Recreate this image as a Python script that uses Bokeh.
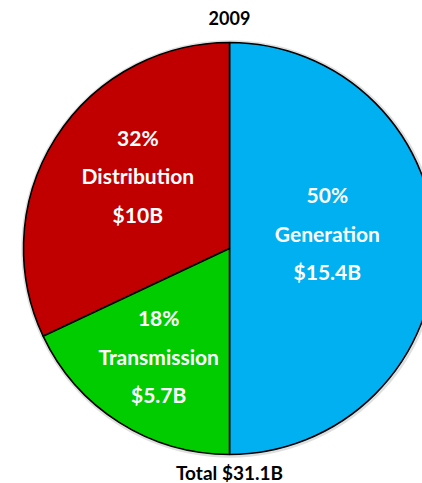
import math
from bokeh.plotting import figure
from bokeh.models import Range1d, ColumnDataSource
from bokeh.core.properties import value
from bokeh.embed import file_html
from bokeh.resources import INLINE

# ---- data ----
categories = ["Generation", "Distribution", "Transmission"]
percents = [50, 32, 18]
amounts = ["$15.4B", "$10B", "$5.7B"]
colors = ["#00B0F0", "#C00000", "#00CC00"]
title_text = "2009"
total_text = "Total $31.1B"

# ---- layout ----
W, H = 422, 483
cx, cy, R = 229, 235, 206
label_r = [99, 117, 129]          # label block distance from centre
label_adj = [8.8, -6.0, -0.9]     # angle tweak (deg) from slice mid
line_gap = 38.5
FONT = "Lato"

starts, ends = [], []
a = -90.0
for pct in percents:
    starts.append(math.radians(a))
    a += pct * 3.6
    ends.append(math.radians(a))

src = ColumnDataSource(dict(x=[cx] * 3, y=[cy] * 3, start=starts, end=ends, color=colors))

p = figure(width=W, height=H, output_backend="svg", toolbar_location=None,
           x_range=Range1d(0, W), y_range=Range1d(0, H), min_border=0,
           outline_line_color=None)
p.axis.visible = False
p.grid.visible = False
p.background_fill_color = "white"
p.border_fill_color = "white"

# soft shadow
p.circle(x=[cx + 0.5], y=[cy - 0.5], radius=R + 1.5, fill_color=None,
         line_color="#808080", line_alpha=0.25, line_width=2.5)

p.wedge(x="x", y="y", radius=R, start_angle="start", end_angle="end",
        fill_color="color", line_color="black", line_width=1.6, source=src)

# slice labels
lx, ly, lt = [], [], []
for i, cat in enumerate(categories):
    mid = (starts[i] + ends[i]) / 2 + math.radians(label_adj[i])
    bx = cx + label_r[i] * math.cos(mid)
    by = cy + label_r[i] * math.sin(mid)
    for k, t in enumerate([f"{percents[i]}%", cat, amounts[i]]):
        lx.append(bx)
        ly.append(by + line_gap * (1 - k))
        lt.append(t)

p.text(x=lx, y=ly, text=lt, text_color="white", text_font=value(FONT),
       text_font_style="bold", text_font_size="21px", text_align="center",
       text_baseline="middle")

p.text(x=[cx], y=[H - 17], text=[title_text], text_color="black", text_font=value(FONT),
       text_font_style="bold", text_font_size="18px", text_align="center",
       text_baseline="middle")
p.text(x=[cx], y=[11], text=[total_text], text_color="black", text_font=value(FONT),
       text_font_style="bold", text_font_size="19px", text_align="center",
       text_baseline="middle")

open("out.html", "w").write(file_html(p, INLINE))
